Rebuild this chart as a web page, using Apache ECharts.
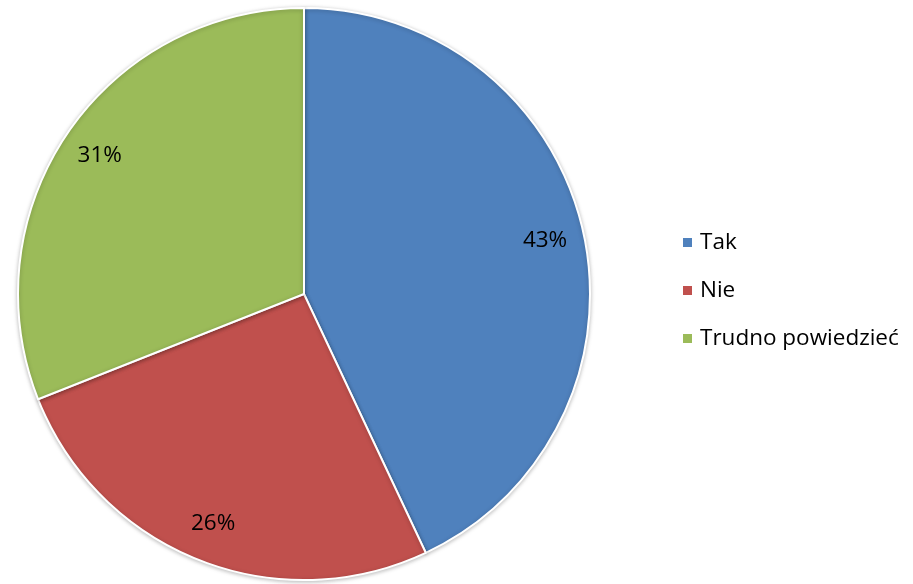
<!DOCTYPE html>
<html><head><meta charset="utf-8">
<script src="https://cdn.jsdelivr.net/npm/echarts@6/dist/echarts.min.js"></script>
<style>html,body{margin:0;padding:0;background:#fff}#c{width:913px;height:584px}</style>
</head><body><div id="c"></div>
<script>
const categories = ['Tak', 'Nie', 'Trudno powiedzieć'];
const values = [43, 26, 31];
const colors = ['#4F81BD', '#C0504D', '#9BBB59'];

const data = categories.map((n, i) => ({ name: n, value: values[i], itemStyle: { color: colors[i] } }));
const font = '"Open Sans", Lato, sans-serif';
const chart = echarts.init(document.getElementById('c'));
chart.setOption({
  animation: false,
  legend: {
    orient: 'vertical',
    left: 681, top: 231, padding: 0,
    itemWidth: 11, itemHeight: 11, itemGap: 25,
    icon: 'rect',
    textStyle: { fontFamily: font, fontSize: 22.5, color: '#000', padding: [0, 0, 0, 2] },
    data: categories
  },
  series: [
    {
      type: 'pie', center: [304, 294], radius: [0, 286],
      startAngle: 90, clockwise: true,
      label: { show: false }, labelLine: { show: false },
      itemStyle: { borderColor: '#fff', borderWidth: 2, shadowColor: 'rgba(0,0,0,0.25)', shadowBlur: 4, shadowOffsetY: 1 },
      emphasis: { disabled: true },
      data: data
    },
    {
      type: 'pie', center: [304, 294], radius: [202, 286],
      startAngle: 90, clockwise: true, silent: true,
      itemStyle: { color: 'rgba(0,0,0,0)', borderWidth: 0 },
      label: { show: true, position: 'inside', formatter: '{d}%', fontFamily: font, fontSize: 22.5, color: '#000' },
      labelLine: { show: false },
      legendHoverLink: false,
      emphasis: { disabled: true },
      data: categories.map((n, i) => ({ name: n, value: values[i], itemStyle: { color: 'rgba(0,0,0,0)' } }))
    }
  ]
});
</script></body></html>
